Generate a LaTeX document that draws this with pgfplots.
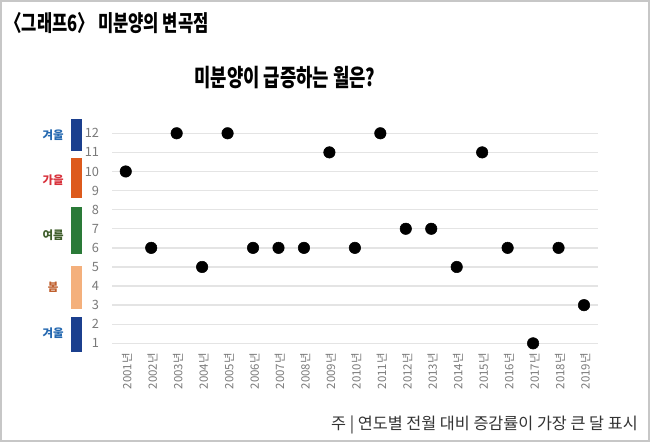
\documentclass[border=0pt]{standalone}
\usepackage{fontspec}
\setmainfont{Noto Sans CJK KR}
\newfontfamily\titlefont{Noto Sans CJK KR}[FakeStretch=0.74]
\usepackage{pgfplots}
\pgfplotsset{compat=1.18}
\usepackage{pgfplotstable}
\definecolor{gridc}{HTML}{E4E4E4}
\definecolor{tickc}{HTML}{7A7A7A}
\definecolor{winterbar}{HTML}{1B3F8E}
\definecolor{autumnbar}{HTML}{DD5A1C}
\definecolor{summerbar}{HTML}{2A7A38}
\definecolor{springbar}{HTML}{F4B07C}
\definecolor{wintertxt}{HTML}{2468B0}
\definecolor{autumntxt}{HTML}{D8303A}
\definecolor{summertxt}{HTML}{3F5E2C}
\definecolor{springtxt}{HTML}{C0602E}
\pgfplotstableread{
idx year month
0 2001 10
1 2002 6
2 2003 12
3 2004 5
4 2005 12
5 2006 6
6 2007 6
7 2008 6
8 2009 11
9 2010 6
10 2011 12
11 2012 7
12 2013 7
13 2014 5
14 2015 11
15 2016 6
16 2017 1
17 2018 6
18 2019 3
}\monthdata
\begin{document}
\begin{tikzpicture}[x=0.75pt,y=0.75pt]
\useasboundingbox (0,0) rectangle (650,442);
\fill[white] (0,0) rectangle (650,442);
\draw[color=black!22, line width=1.1pt] (1,1) rectangle (649,441);
\node[anchor=west, inner sep=0pt, font=\titlefont\bfseries\fontsize{16.8pt}{19pt}\selectfont] at (5,419) {〈그래프6〉 미분양의 변곡점};
\node[anchor=center, inner sep=0pt, font=\titlefont\bfseries\fontsize{18pt}{21pt}\selectfont] at (285,364.5) {미분양이 급증하는 월은?};
\node[anchor=east, inner sep=0pt, text=black!80, font=\fontsize{12.2pt}{14pt}\selectfont] at (638,17) {주 | 연도별 전월 대비 증감률이 가장 큰 달 표시};
\begin{axis}[
  at={(84pt,66.825pt)}, anchor=south west,
  scale only axis, width=364.5pt, height=177.6pt,
  xmin=-0.54, xmax=18.55, ymin=0.5, ymax=12.9,
  clip=false,
  axis line style={draw=none},
  major tick length=0pt,
  ymajorgrids, grid style={color=gridc, line width=1pt},
  ytick={1,2,3,4,5,6,7,8,9,10,11,12},
  xtick={0,...,18},
  xticklabels={2001년,2002년,2003년,2004년,2005년,2006년,2007년,2008년,2009년,2010년,2011년,2012년,2013년,2014년,2015년,2016년,2017년,2018년,2019년},
  /pgf/number format/assume math mode=true,
  yticklabel style={anchor=east, inner sep=0pt, xshift=-9.5pt, text=tickc, font=\fontsize{9.6pt}{11pt}\selectfont},
  xticklabel style={rotate=90, anchor=east, inner sep=0pt, yshift=-1pt, text=tickc, font=\fontsize{8.6pt}{10pt}\selectfont},
]
\addplot[only marks, mark=*, mark size=4.3pt, color=black] table[x=idx, y=month] {\monthdata};
\fill[winterbar] (axis cs:-2.148,11.07) rectangle (axis cs:-1.716,12.75);
\fill[autumnbar] (axis cs:-2.148,8.59) rectangle (axis cs:-1.716,10.72);
\fill[summerbar] (axis cs:-2.148,5.68) rectangle (axis cs:-1.716,8.15);
\fill[springbar] (axis cs:-2.148,2.80) rectangle (axis cs:-1.716,5.06);
\fill[winterbar] (axis cs:-2.148,0.53) rectangle (axis cs:-1.716,2.36);
\node[text=wintertxt, font=\bfseries\fontsize{8.6pt}{10pt}\selectfont] at (axis cs:-2.85,11.9) {겨울};
\node[text=autumntxt, font=\bfseries\fontsize{8.6pt}{10pt}\selectfont] at (axis cs:-2.85,9.55) {가을};
\node[text=summertxt, font=\bfseries\fontsize{8.6pt}{10pt}\selectfont] at (axis cs:-2.85,6.67) {여름};
\node[text=springtxt, font=\bfseries\fontsize{8.6pt}{10pt}\selectfont] at (axis cs:-2.85,3.96) {봄};
\node[text=wintertxt, font=\bfseries\fontsize{8.6pt}{10pt}\selectfont] at (axis cs:-2.85,1.55) {겨울};
\end{axis}
\end{tikzpicture}
\end{document}
